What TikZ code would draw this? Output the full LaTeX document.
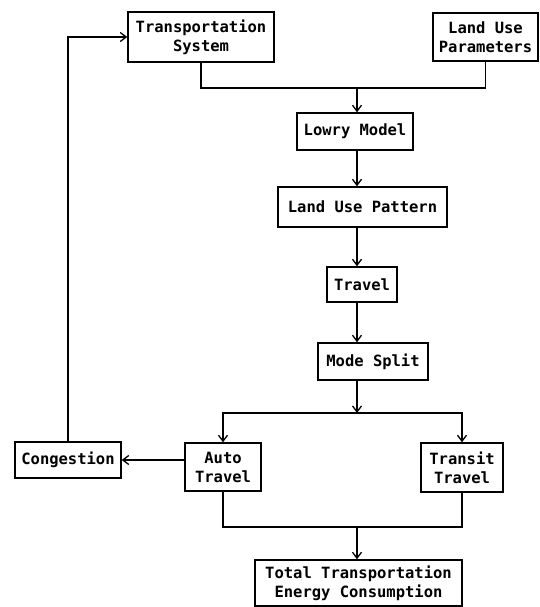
\documentclass[tikz,border=0pt]{standalone}
\usepackage{fontspec}
\usetikzlibrary{arrows.meta}
\newfontfamily\typefont{DejaVu Sans Mono}
\begin{document}
\begin{tikzpicture}[x=1pt, y=-1pt, line width=1.3pt, >={Straight Barb[length=6pt, width=9pt]},
	box/.style={draw, line width=1.4pt, align=center, inner sep=0pt, font=\typefont\bfseries\fontsize{15.5}{19}\selectfont}]
	\useasboundingbox (0, 0) rectangle (540, 607);
	\node[box, minimum width=146, minimum height=50] (ts) at (201, 37) {Transportation\\System};
	\node[box, minimum width=105, minimum height=48] (lup) at (485.5, 37) {Land Use\\Parameters};
	\node[box, minimum width=116, minimum height=37] (lowry) at (355, 131.5) {Lowry Model};
	\node[box, minimum width=169, minimum height=40] (pattern) at (362.5, 207) {Land Use Pattern};
	\node[box, minimum width=70, minimum height=35] (travel) at (362, 284.5) {Travel};
	\node[box, minimum width=110, minimum height=37] (split) at (373, 361.5) {Mode Split};
	\node[box, minimum width=76, minimum height=48] (auto) at (223, 467) {Auto\\Travel};
	\node[box, minimum width=82, minimum height=49] (transit) at (462, 467.5) {Transit\\Travel};
	\node[box, minimum width=106, minimum height=36] (cong) at (68, 460) {Congestion};
	\node[box, minimum width=207, minimum height=46] (total) at (358.5, 583) {Total Transportation\\Energy Consumption};
	\coordinate (join) at (357, 88);
	\coordinate (fork) at (357, 413);
	\coordinate (merge) at (357, 527);
	\draw (ts.south) |- (join) -| (lup.south);
	\draw[->] (join) -- (lowry.north -| join);
	\draw[->] (lowry.south -| join) -- (pattern.north -| join);
	\draw[->] (pattern.south -| join) -- (travel.north -| join);
	\draw[->] (travel.south -| join) -- (split.north -| join);
	\draw[->] (split.south -| join) -- (fork);
	\draw[->] (fork) -| (auto.north);
	\draw[->] (fork) -| (transit.north);
	\draw[->] (cong.east -| auto.west) -- (cong.east);
	\draw[->] (cong.north) |- (ts.west);
	\draw (auto.south) |- (merge) -| (transit.south);
	\draw[->] (merge) -- (total.north -| merge);
\end{tikzpicture}
\end{document}
